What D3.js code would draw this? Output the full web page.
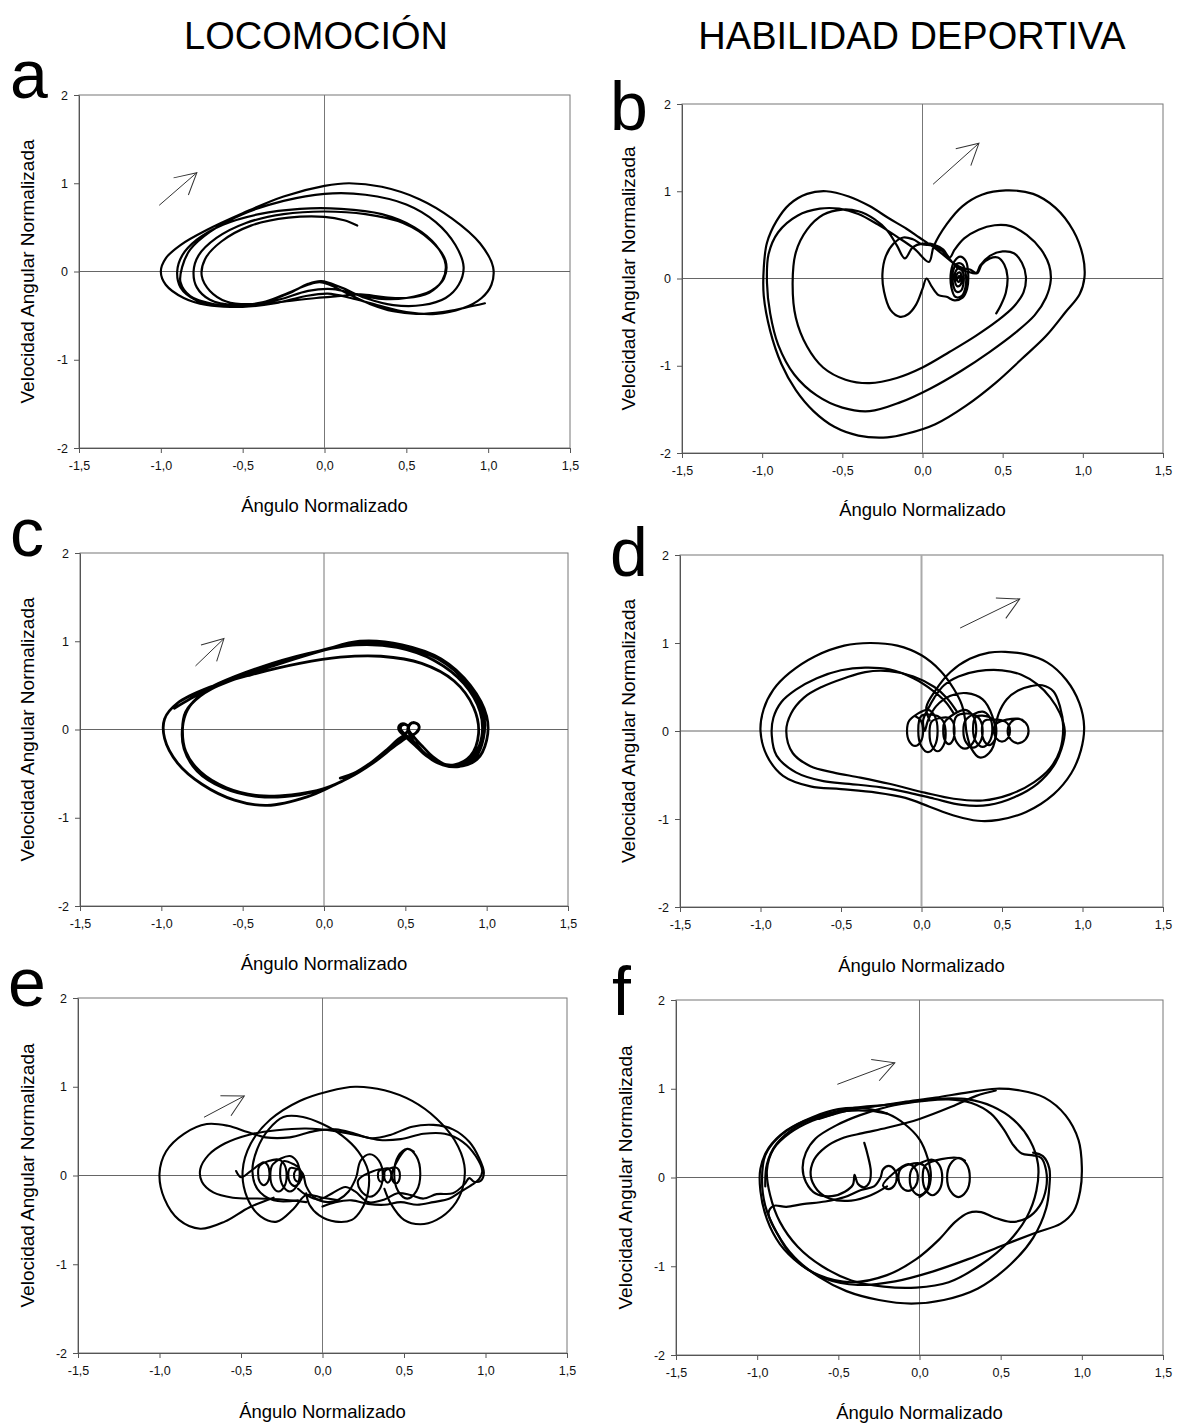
<!DOCTYPE html>
<html>
<head>
<meta charset="utf-8">
<script src="https://cdn.jsdelivr.net/npm/d3@7"></script>
<style>
  body { margin: 0; background: #fff; }
  svg { display: block; }
  text { font-family: "Liberation Sans", Arial, sans-serif; }
</style>
</head>
<body>
<svg id="fig" width="1184" height="1427"></svg>
<script>
// ---- axis ticks and labels ----
const xTicks = [-1.5, -1, -0.5, 0, 0.5, 1, 1.5];
const yTicks = [-2, -1, 0, 1, 2];
const columnTitles = ["LOCOMOCIÓN", "HABILIDAD DEPORTIVA"];
const xTitle = "Ángulo Normalizado";
const yTitle = "Velocidad Angular Normalizada";
const panelLetters = ["a", "b", "c", "d", "e", "f"];

// ---- phase trajectories: [normalized angle, normalized angular velocity] ----
// a: locomotion, kidney-shaped cycles
const trajA = [
[0.98,-0.36],[0.86,-0.41],[0.72,-0.46],[0.56,-0.48],[0.42,-0.45],[0.28,-0.37],[0.14,-0.25],[0.03,-0.15],[-0.03,-0.12],[-0.1,-0.15],[-0.22,-0.24],[-0.36,-0.34],[-0.5,-0.38],[-0.66,-0.38],[-0.79,-0.32],[-0.88,-0.18],[-0.9,0],[-0.87,0.18],[-0.78,0.36],[-0.62,0.53],[-0.4,0.65],[-0.15,0.71],[0.1,0.71],[0.35,0.65],[0.55,0.5],[0.68,0.3],[0.74,0.08],[0.72,-0.1],[0.64,-0.24],[0.5,-0.3],[0.36,-0.29],[0.22,-0.26],[0.08,-0.28],
[-0.05,-0.3],[-0.2,-0.33],[-0.38,-0.37],[-0.56,-0.4],[-0.72,-0.38],[-0.86,-0.3],[-0.97,-0.15],[-1.0,0],[-0.97,0.15],[-0.88,0.3],[-0.72,0.47],[-0.5,0.66],[-0.25,0.85],[0.0,0.97],[0.15,1.0],[0.35,0.96],[0.58,0.82],[0.78,0.6],[0.95,0.32],[1.03,0.05],[1.02,-0.15],[0.96,-0.3],[0.84,-0.42],[0.68,-0.48],[0.5,-0.46],[0.32,-0.38],[0.16,-0.3],[0.02,-0.25],
[-0.12,-0.28],[-0.3,-0.36],[-0.5,-0.4],[-0.68,-0.37],[-0.82,-0.28],[-0.88,-0.12],[-0.87,0.05],[-0.82,0.25],[-0.7,0.45],[-0.5,0.65],[-0.25,0.8],[0.0,0.88],[0.25,0.87],[0.5,0.76],[0.68,0.56],[0.8,0.3],[0.85,0.05],[0.82,-0.15],[0.74,-0.3],[0.6,-0.38],[0.42,-0.38],[0.25,-0.3],[0.1,-0.18],[-0.02,-0.11],
[-0.1,-0.14],[-0.22,-0.25],[-0.38,-0.35],[-0.55,-0.38],[-0.7,-0.32],[-0.78,-0.18],[-0.8,0],[-0.77,0.18],[-0.66,0.38],[-0.48,0.55],[-0.25,0.65],[0.0,0.68],[0.25,0.65],[0.48,0.55],[0.65,0.35],[0.74,0.12],[0.73,-0.08],[0.65,-0.22],[0.5,-0.3],[0.35,-0.31],[0.2,-0.26],[0.05,-0.2],
[-0.1,-0.22],[-0.28,-0.32],[-0.45,-0.37],[-0.6,-0.34],[-0.7,-0.22],[-0.75,-0.05],[-0.73,0.14],[-0.63,0.34],[-0.45,0.52],[-0.22,0.61],[0.0,0.62],[0.12,0.58],[0.2,0.52]
];

// b: sport skill, spiral start, small loop, three heart-shaped cycles, final hook
const trajB = [
[0.22,0.0],[0.228,0.03],[0.236,0.0],[0.226,-0.04],[0.212,-0.01],[0.215,0.05],[0.232,0.07],[0.244,0.02],[0.238,-0.07],[0.218,-0.09],[0.202,-0.03],[0.204,0.07],[0.226,0.12],[0.252,0.07],[0.256,-0.05],[0.24,-0.14],[0.21,-0.15],[0.19,-0.06],[0.19,0.08],[0.215,0.17],[0.25,0.16],[0.27,0.05],[0.268,-0.1],[0.245,-0.2],[0.205,-0.21],[0.18,-0.1],[0.178,0.08],[0.2,0.2],[0.235,0.25],[0.27,0.2],[0.285,0.05],[0.278,-0.12],[0.25,-0.22],[0.2,-0.25],[0.15,-0.21],[0.1,-0.19],[0.06,-0.1],[0.025,0.0],
[0.0,-0.12],[-0.04,-0.3],[-0.09,-0.41],[-0.14,-0.44],[-0.2,-0.36],[-0.24,-0.15],[-0.25,0.05],[-0.23,0.25],[-0.18,0.4],[-0.12,0.47],[-0.06,0.45],[0.0,0.39],[0.06,0.38],[0.12,0.32],[0.17,0.22],[0.22,0.12],[0.28,0.08],[0.335,0.06],
[0.36,0.15],[0.42,0.26],[0.5,0.31],[0.57,0.29],[0.62,0.18],[0.645,0.02],[0.63,-0.16],[0.57,-0.32],[0.47,-0.48],[0.33,-0.66],[0.17,-0.84],[0.0,-1.02],[-0.16,-1.14],[-0.33,-1.2],[-0.48,-1.16],[-0.62,-1.02],[-0.72,-0.78],[-0.79,-0.45],[-0.81,-0.05],[-0.79,0.3],[-0.72,0.56],[-0.62,0.73],[-0.5,0.79],[-0.4,0.77],[-0.3,0.68],[-0.22,0.55],[-0.16,0.38],[-0.11,0.23],[-0.06,0.36],[0.0,0.4],[0.07,0.39],[0.13,0.33],[0.17,0.24],
[0.2,0.33],[0.26,0.46],[0.35,0.56],[0.45,0.61],[0.55,0.6],[0.65,0.5],[0.74,0.33],[0.79,0.15],[0.8,-0.02],[0.77,-0.22],[0.7,-0.42],[0.58,-0.62],[0.42,-0.84],[0.24,-1.06],[0.05,-1.26],[-0.14,-1.42],[-0.33,-1.52],[-0.5,-1.48],[-0.66,-1.34],[-0.8,-1.1],[-0.9,-0.76],[-0.95,-0.4],[-0.97,-0.05],[-0.96,0.28],[-0.9,0.53],[-0.78,0.72],[-0.64,0.8],[-0.52,0.8],[-0.4,0.74],[-0.28,0.62],[-0.16,0.48],[-0.05,0.34],[0.04,0.19],
[0.07,0.37],[0.15,0.62],[0.25,0.83],[0.37,0.96],[0.52,1.01],[0.69,0.97],[0.83,0.81],[0.94,0.55],[1.0,0.26],[1.01,0.01],[0.98,-0.18],[0.89,-0.39],[0.77,-0.66],[0.62,-0.92],[0.46,-1.19],[0.27,-1.46],[0.08,-1.67],[-0.1,-1.78],[-0.22,-1.82],[-0.4,-1.8],[-0.55,-1.7],[-0.68,-1.52],[-0.79,-1.28],[-0.88,-0.98],[-0.95,-0.6],[-0.99,-0.2],[-0.99,0.12],[-0.97,0.41],[-0.91,0.66],[-0.83,0.85],[-0.72,0.97],[-0.6,1.0],[-0.46,0.94],[-0.33,0.83],[-0.21,0.69],[-0.1,0.57],[-0.02,0.47],[0.06,0.37],[0.13,0.27],[0.19,0.18],[0.25,0.12],[0.3,0.1],[0.34,0.06],
[0.37,0.16],[0.42,0.23],[0.47,0.24],[0.51,0.16],[0.53,0.02],[0.52,-0.16],[0.49,-0.3],[0.46,-0.4]
];

// c: locomotion, tightly repeated cycles with twin loops near (0.5, 0)
const trajC = [
[-0.92,0.24],[-0.82,0.35],[-0.65,0.52],[-0.4,0.7],[-0.1,0.86],[0.2,0.96],[0.45,0.93],[0.68,0.78],[0.86,0.52],[0.96,0.2],[0.97,-0.08],[0.92,-0.3],[0.84,-0.41],[0.75,-0.4],[0.67,-0.31],[0.61,-0.2],[0.56,-0.1],[0.52,0.0],[0.53,0.06],[0.56,0.075],[0.585,0.03],[0.565,-0.04],[0.51,-0.09],[0.44,-0.18],[0.3,-0.38],[0.15,-0.55],[0.0,-0.67],[-0.2,-0.74],[-0.4,-0.75],[-0.6,-0.66],[-0.76,-0.48],[-0.85,-0.25],[-0.87,0.0],[-0.85,0.2],
[-0.76,0.38],[-0.58,0.56],[-0.35,0.72],[-0.05,0.88],[0.2,0.98],[0.45,0.95],[0.7,0.8],[0.88,0.52],[0.98,0.18],[0.98,-0.1],[0.93,-0.32],[0.83,-0.42],[0.73,-0.4],[0.63,-0.3],[0.56,-0.18],[0.5,-0.08],[0.46,0.0],[0.465,0.05],[0.495,0.065],[0.52,0.02],[0.5,-0.05],[0.45,-0.12],[0.38,-0.24],[0.3,-0.36],[0.18,-0.52],[0.02,-0.66],[-0.15,-0.74],[-0.4,-0.76],[-0.62,-0.66],[-0.78,-0.47],[-0.86,-0.22],[-0.87,0.02],[-0.84,0.22],
[-0.75,0.4],[-0.55,0.57],[-0.3,0.73],[0.0,0.9],[0.22,1.0],[0.48,0.96],[0.72,0.8],[0.9,0.5],[1.0,0.15],[1.0,-0.12],[0.94,-0.34],[0.82,-0.42],[0.7,-0.38],[0.62,-0.28],[0.56,-0.16],[0.53,-0.07],[0.515,0.01],[0.53,0.065],[0.56,0.075],[0.585,0.035],[0.565,-0.04],[0.5,-0.1],[0.42,-0.2],[0.34,-0.32],[0.2,-0.5],[0.05,-0.64],[-0.1,-0.76],[-0.35,-0.86],[-0.55,-0.8],[-0.75,-0.62],[-0.9,-0.38],[-0.98,-0.1],[-0.98,0.12],[-0.9,0.3],
[-0.7,0.48],[-0.45,0.62],[-0.15,0.75],[0.1,0.82],[0.35,0.83],[0.6,0.75],[0.8,0.55],[0.92,0.25],[0.95,-0.05],[0.9,-0.3],[0.8,-0.4],[0.7,-0.37],[0.62,-0.27],[0.56,-0.15],[0.5,-0.06],[0.47,0.01],[0.48,0.05],[0.51,0.05],[0.52,0.0],[0.49,-0.07],[0.43,-0.16],[0.3,-0.36],[0.18,-0.5],[0.1,-0.55]
];

// d: sport skill, figure-eight cycles around a chain of small loops
const trajD1 = [
[0.05,0.12],[0.03,0.27],[0.09,0.47],[0.18,0.67],[0.3,0.82],[0.42,0.89],[0.52,0.9],[0.65,0.87],[0.78,0.78],[0.9,0.58],[0.98,0.32],[1.01,0.05],[0.99,-0.22],[0.93,-0.48],[0.82,-0.72],[0.65,-0.92],[0.48,-1.01],[0.35,-1.02],[0.2,-0.96],[0.05,-0.86],[-0.1,-0.76],[-0.28,-0.7],[-0.5,-0.66],[-0.69,-0.63],[-0.86,-0.51],[-0.96,-0.28],[-1.0,0.0],[-0.98,0.25],[-0.92,0.47],[-0.82,0.66],[-0.66,0.85],[-0.48,0.97],[-0.32,1.0],[-0.15,0.97],[0.0,0.86],[0.12,0.68],[0.2,0.48],[0.25,0.3],[0.27,0.14],[0.28,-0.02],
[0.31,-0.2],[0.36,-0.3],[0.42,-0.25],[0.46,-0.06],[0.44,0.17],[0.38,0.36],[0.28,0.43],[0.18,0.4],[0.09,0.28],[0.04,0.12],[0.02,0.0],[0.01,0.12],[0.04,0.25],
[0.08,0.38],[0.14,0.52],[0.23,0.62],[0.35,0.68],[0.5,0.69],[0.62,0.64],[0.72,0.53],[0.8,0.38],[0.86,0.2],[0.89,0.0],[0.87,-0.2],[0.82,-0.4],[0.72,-0.6],[0.58,-0.75],[0.42,-0.84],[0.25,-0.84],[0.08,-0.77],[-0.08,-0.7],[-0.25,-0.64],[-0.45,-0.6],[-0.61,-0.57],[-0.78,-0.47],[-0.9,-0.28],[-0.93,-0.05],[-0.92,0.15],[-0.87,0.33],[-0.78,0.47],[-0.65,0.6],[-0.5,0.69],[-0.35,0.72],[-0.2,0.7],[-0.05,0.6],[0.07,0.46],[0.15,0.33],[0.2,0.2]
];
const trajD2 = [
[0.46,0.05],[0.48,0.2],[0.53,0.36],[0.6,0.46],[0.68,0.51],[0.75,0.52],[0.82,0.45],[0.86,0.28],[0.88,0.05],[0.86,-0.22],[0.8,-0.42],[0.7,-0.58],[0.55,-0.72],[0.38,-0.79],[0.2,-0.77],[0.02,-0.7],[-0.2,-0.6],[-0.38,-0.53],[-0.55,-0.47],[-0.69,-0.4],[-0.8,-0.25],[-0.84,0.0],[-0.81,0.2],[-0.73,0.38],[-0.62,0.5],[-0.48,0.6],[-0.35,0.67],[-0.2,0.68],[-0.05,0.62],[0.08,0.5],[0.16,0.37],[0.22,0.22]
];
const loopsD = [
[-0.04,0.17],[-0.005,0.12],[0.01,0.0],[-0.005,-0.12],[-0.04,-0.17],[-0.075,-0.12],[-0.09,0.0],[-0.075,0.12],
[0.04,0.24],[0.082,0.17],[0.1,0.0],[0.082,-0.17],[0.04,-0.24],[-0.002,-0.17],[-0.02,0.0],[-0.002,0.17],
[0.1,0.17],[0.135,0.11],[0.15,-0.03],[0.135,-0.17],[0.1,-0.23],[0.065,-0.17],[0.05,-0.03],[0.065,0.11],
[0.17,0.15],[0.195,0.105],[0.205,0.0],[0.195,-0.105],[0.17,-0.15],[0.145,-0.105],[0.135,0.0],[0.145,0.105],
[0.27,0.24],[0.319,0.174],[0.34,0.02],[0.319,-0.134],[0.27,-0.2],[0.221,-0.134],[0.2,0.02],[0.221,0.174],
[0.32,0.19],[0.362,0.133],[0.38,0.0],[0.362,-0.133],[0.32,-0.19],[0.278,-0.133],[0.26,0.0],[0.278,0.133],
[0.38,0.22],[0.422,0.16],[0.44,0.02],[0.422,-0.12],[0.38,-0.18],[0.338,-0.12],[0.32,0.02],[0.338,0.16],
[0.42,0.16],[0.452,0.112],[0.465,0.0],[0.452,-0.112],[0.42,-0.16],[0.389,-0.112],[0.375,0.0],[0.389,0.112],
[0.5,0.12],[0.535,0.084],[0.55,0.0],[0.535,-0.084],[0.5,-0.12],[0.465,-0.084],[0.45,0.0],[0.465,0.084],
[0.6,0.14],[0.645,0.098],[0.665,0.0],[0.645,-0.098],[0.6,-0.14],[0.555,-0.098],[0.535,0.0],[0.555,0.098],[0.6,0.14],[0.64,0.1]
];

// e: locomotion, irregular cycles with many small loops
const trajE1 = [
[-0.3,-0.25],[-0.45,-0.36],[-0.6,-0.52],[-0.75,-0.6],[-0.88,-0.5],[-0.97,-0.26],[-1.0,0.02],[-0.96,0.27],[-0.85,0.47],[-0.71,0.58],[-0.58,0.56],[-0.46,0.49],[-0.35,0.43],[-0.2,0.43],[-0.05,0.5],[0.08,0.52],[0.2,0.47],[0.3,0.42],[0.42,0.46],[0.55,0.55],[0.68,0.57],[0.8,0.52],[0.9,0.38],[0.96,0.2],[0.99,0.03],[0.97,-0.06],[0.93,-0.07],[0.9,-0.03],[0.87,-0.1],[0.8,-0.2],[0.7,-0.21],[0.62,-0.26],[0.54,-0.22],[0.46,-0.2],[0.38,-0.27],[0.28,-0.3],[0.2,-0.18],[0.14,-0.13],[0.06,-0.2],[-0.02,-0.27],[-0.1,-0.22],[-0.15,-0.15]
];
const trajE2 = [
[-0.1,-0.3],[-0.25,-0.27],[-0.4,-0.26],[-0.55,-0.25],[-0.67,-0.19],[-0.74,-0.07],[-0.75,0.07],[-0.7,0.23],[-0.6,0.36],[-0.45,0.46],[-0.28,0.51],[-0.1,0.53],[0.08,0.5],[0.22,0.45],[0.35,0.4],[0.48,0.41],[0.62,0.47],[0.75,0.47],[0.86,0.38],[0.94,0.22],[0.98,0.05],[0.96,-0.04],[0.92,-0.1],[0.85,-0.18],[0.78,-0.26],[0.68,-0.3],[0.58,-0.33],[0.48,-0.3],[0.38,-0.33],[0.28,-0.32],[0.18,-0.28],[0.08,-0.3],[0.0,-0.35]
];
const trajE3 = [
[0.1,-0.28],[0.0,-0.25],[-0.1,-0.22],[-0.18,-0.38],[-0.28,-0.52],[-0.38,-0.46],[-0.46,-0.26],[-0.49,0.05],[-0.44,0.36],[-0.32,0.63],[-0.14,0.84],[0.04,0.95],[0.2,1.0],[0.38,0.96],[0.55,0.84],[0.7,0.64],[0.81,0.4],[0.87,0.12],[0.86,-0.14],[0.8,-0.35],[0.7,-0.5],[0.6,-0.55],[0.5,-0.5],[0.42,-0.32],[0.38,-0.15]
];
const trajE4 = [
[-0.15,-0.28],[-0.3,-0.28],[-0.4,-0.15],[-0.43,0.05],[-0.4,0.3],[-0.33,0.52],[-0.24,0.66],[-0.12,0.66],[0.0,0.58],[0.12,0.45],[0.22,0.27],[0.28,0.05],[0.28,-0.18],[0.24,-0.38],[0.18,-0.5],[0.08,-0.52],[-0.02,-0.45],[-0.08,-0.33],[-0.1,-0.2]
];
const loopsE = [
[-0.53,0.05],[-0.5,-0.02],[-0.44,0.05],
[-0.36,0.15],[-0.335,0.111],[-0.325,0.02],[-0.335,-0.071],[-0.36,-0.11],[-0.385,-0.071],[-0.395,0.02],[-0.385,0.111],
[-0.27,0.18],[-0.235,0.126],[-0.22,0.0],[-0.235,-0.126],[-0.27,-0.18],[-0.305,-0.126],[-0.32,0.0],[-0.305,0.126],
[-0.2,0.22],[-0.158,0.16],[-0.14,0.02],[-0.158,-0.12],[-0.2,-0.18],[-0.242,-0.12],[-0.26,0.02],[-0.242,0.16],
[-0.17,0.12],[-0.142,0.084],[-0.13,0.0],[-0.142,-0.084],[-0.17,-0.12],[-0.198,-0.084],[-0.21,0.0],[-0.198,0.084],
[-0.15,0.07],[-0.132,0.05],[-0.125,0.0],[-0.132,-0.05],[-0.15,-0.07],[-0.168,-0.05],[-0.175,0.0],[-0.168,0.05],[-0.15,0.07],[-0.12,0.02],
[-0.1,-0.12],[-0.05,-0.25],[0.03,-0.3],[0.1,-0.27],[0.16,-0.18],[0.2,-0.05],
[0.21,0.0],[0.234,0.168],[0.29,0.24],[0.346,0.168],[0.37,0.0],[0.346,-0.168],[0.29,-0.24],[0.234,-0.168],[0.22,-0.05],
[0.36,0.07],[0.374,0.05],[0.38,0.0],[0.374,-0.05],[0.36,-0.07],[0.346,-0.05],[0.34,0.0],[0.346,0.05],
[0.4,0.08],[0.415,0.056],[0.422,0.0],[0.415,-0.056],[0.4,-0.08],[0.385,-0.056],[0.378,0.0],[0.385,0.056],
[0.45,0.09],[0.468,0.063],[0.475,0.0],[0.468,-0.063],[0.45,-0.09],[0.432,-0.063],[0.425,0.0],[0.432,0.063],
[0.52,0.3],[0.576,0.216],[0.6,0.02],[0.576,-0.176],[0.52,-0.26],[0.464,-0.176],[0.44,0.02],[0.464,0.216],[0.52,0.3],[0.56,0.27]
];

// f: sport skill, large cycles with a chain of loops on the horizontal axis
const trajF1 = [
[-0.62,0.66],[-0.45,0.75],[-0.28,0.8],[-0.1,0.85],[0.1,0.9],[0.3,0.96],[0.47,1.0],[0.62,0.98],[0.77,0.9],[0.9,0.7],[0.98,0.42],[1.0,0.12],[0.99,-0.15],[0.95,-0.38],[0.87,-0.52],[0.72,-0.62],[0.52,-0.76],[0.3,-0.92],[0.08,-1.06],[-0.15,-1.17],[-0.38,-1.21],[-0.58,-1.14],[-0.74,-0.97],[-0.86,-0.75],[-0.94,-0.47],[-0.98,-0.15],[-0.98,0.1],[-0.93,0.33],[-0.82,0.53],[-0.66,0.68],[-0.5,0.77],[-0.35,0.78],[-0.2,0.72],[-0.09,0.6],[0.0,0.43],[0.05,0.22],[0.07,0.02],[0.05,-0.14],[0.0,-0.22]
];
const trajF2 = [
[-0.95,-0.1],[-0.94,0.15],[-0.88,0.38],[-0.76,0.57],[-0.6,0.7],[-0.42,0.78],[-0.2,0.82],[0.0,0.86],[0.18,0.88],[0.32,0.84],[0.44,0.72],[0.52,0.54],[0.58,0.36],[0.63,0.27],[0.7,0.25],[0.75,0.22],[0.78,0.08],[0.78,-0.12],[0.74,-0.32],[0.66,-0.46],[0.56,-0.5],[0.46,-0.45],[0.38,-0.39],[0.3,-0.4],[0.22,-0.5],[0.12,-0.7],[-0.02,-0.92],[-0.2,-1.1],[-0.42,-1.18],[-0.62,-1.1],[-0.78,-0.9],[-0.88,-0.62],[-0.93,-0.4],[-0.9,-0.32],[-0.82,-0.33],[-0.72,-0.3],[-0.58,-0.27],[-0.46,-0.22],[-0.36,-0.14],[-0.28,-0.1],
[-0.24,0.0],[-0.225,0.09],[-0.19,0.13],[-0.155,0.09],[-0.14,0.0],[-0.155,-0.09],[-0.19,-0.13],[-0.225,-0.09],
[-0.07,0.15],[-0.028,0.105],[-0.01,0.0],[-0.028,-0.105],[-0.07,-0.15],[-0.112,-0.105],[-0.13,0.0],[-0.112,0.105],
[0.0,0.16],[0.042,0.106],[0.06,-0.02],[0.042,-0.146],[0.0,-0.2],[-0.042,-0.146],[-0.06,-0.02],[-0.042,0.106],
[0.08,0.2],[0.122,0.14],[0.14,0.0],[0.122,-0.14],[0.08,-0.2],[0.038,-0.14],[0.02,0.0],[0.038,0.14],
[0.24,0.22],[0.289,0.154],[0.31,0.0],[0.289,-0.154],[0.24,-0.22],[0.191,-0.154],[0.17,0.0],[0.191,0.154],[0.24,0.22],[0.28,0.19]
];
const trajF3 = [
[-0.34,0.39],[-0.32,0.26],[-0.3,0.07],[-0.31,-0.06],[-0.34,-0.11],[-0.38,-0.07],[-0.4,0.03],[-0.41,-0.08],[-0.46,-0.16],[-0.54,-0.21],[-0.64,-0.18],[-0.7,-0.05],[-0.72,0.11],[-0.7,0.28],[-0.64,0.44],[-0.51,0.59],[-0.37,0.7],[-0.19,0.8],[0.0,0.86],[0.15,0.89],[0.3,0.88],[0.45,0.8],[0.58,0.65],[0.68,0.42],[0.73,0.15],[0.72,-0.15],[0.66,-0.45],[0.55,-0.72],[0.38,-0.98],[0.18,-1.18],[-0.02,-1.24],[-0.22,-1.23],[-0.42,-1.16],[-0.6,-1.0],[-0.75,-0.78],[-0.86,-0.5],[-0.92,-0.2],[-0.94,0.08],[-0.9,0.32],[-0.8,0.5],[-0.66,0.64],[-0.52,0.72]
];
const trajF4 = [
[0.7,0.28],[0.76,0.24],[0.8,0.1],[0.8,-0.1],[0.78,-0.35],[0.7,-0.68],[0.56,-0.98],[0.36,-1.25],[0.15,-1.38],[-0.05,-1.42],[-0.25,-1.38],[-0.45,-1.28],[-0.62,-1.12],[-0.77,-0.9],[-0.88,-0.62],[-0.95,-0.32],[-0.97,-0.02],[-0.95,0.25],[-0.87,0.45],[-0.75,0.6],[-0.6,0.7],[-0.45,0.75],[-0.3,0.75],[-0.2,0.72]
];
const trajF5 = [
[-0.2,-0.1],[-0.3,-0.2],[-0.42,-0.26],[-0.55,-0.24],[-0.63,-0.14],[-0.67,0.02],[-0.65,0.2],[-0.58,0.34],[-0.48,0.44],[-0.35,0.5],[-0.2,0.56],[0.0,0.66],[0.2,0.8],[0.35,0.92],[0.47,0.98]
];

// direction arrows: [tail, tip]
const arrowA = [[-1.01,0.75],[-0.78,1.12]];
const arrowB = [[0.066,1.08],[0.352,1.55]];
const arrowC = [[-0.79,0.72],[-0.615,1.03]];
const arrowD = [[0.24,1.17],[0.61,1.5]];
const arrowE = [[-0.727,0.656],[-0.48,0.896]];
const arrowF = [[-0.506,1.05],[-0.152,1.293]];

// ---- layout ----
const panels = [
  { letter: panelLetters[0], box: [79, 570, 95, 448],    series: [trajA], arrow: arrowA, lw: 2.2, letterPos: [10, 98],   yTitleX: 27,  xTitleY: 512 },
  { letter: panelLetters[1], box: [682, 1163, 104, 453], series: [trajB], arrow: arrowB, lw: 2.2, letterPos: [610, 130], yTitleX: 628, xTitleY: 516 },
  { letter: panelLetters[2], box: [80, 568, 553, 906],   series: [trajC], arrow: arrowC, lw: 2.8, letterPos: [10, 556],  yTitleX: 27,  xTitleY: 970 },
  { letter: panelLetters[3], box: [680, 1163, 555, 907], series: [trajD1, trajD2, loopsD], arrow: arrowD, lw: 2.2, letterPos: [610, 576], yTitleX: 628, xTitleY: 972, vZero: { stroke: "#aaa", w: 2 } },
  { letter: panelLetters[4], box: [78, 567, 998, 1353],  series: [trajE1, trajE2, trajE3, trajE4, loopsE], arrow: arrowE, lw: 2.1, letterPos: [8, 1006], yTitleX: 27, xTitleY: 1418 },
  { letter: panelLetters[5], box: [676, 1163, 1000, 1355], series: [trajF1, trajF2, trajF3, trajF4, trajF5], arrow: arrowF, lw: 2.2, letterPos: [612, 1015], yTitleX: 625, xTitleY: 1419 }
];

const svg = d3.select("#fig");
const locale = d3.formatLocale({ decimal: ",", thousands: ".", grouping: [3], currency: ["", ""], minus: "-" });
const fmtX = locale.format(".1f");
const fmtY = locale.format("d");

svg.append("rect").attr("width", 1184).attr("height", 1427).attr("fill", "#fff");

svg.append("defs").append("marker")
  .attr("id", "arrowhead")
  .attr("markerUnits", "userSpaceOnUse")
  .attr("viewBox", "-24 -14 28 28")
  .attr("refX", 0).attr("refY", 0)
  .attr("markerWidth", 28).attr("markerHeight", 28)
  .attr("orient", "auto")
  .append("path")
  .attr("d", "M-21,-11.3L0,0L-21,11.3")
  .attr("fill", "none").attr("stroke", "#333").attr("stroke-width", 1);

// column titles
svg.append("text").attr("x", 316).attr("y", 49).attr("text-anchor", "middle")
  .attr("font-size", 38).text(columnTitles[0]);
svg.append("text").attr("x", 912).attr("y", 49).attr("text-anchor", "middle")
  .attr("font-size", 38).text(columnTitles[1]);

panels.forEach(p => {
  const [x0, x1, y0, y1] = p.box;
  const x = d3.scaleLinear().domain([-1.5, 1.5]).range([x0, x1]);
  const y = d3.scaleLinear().domain([-2, 2]).range([y1, y0]);
  const g = svg.append("g");

  // plot frame
  g.append("rect").attr("x", x0).attr("y", y0).attr("width", x1 - x0).attr("height", y1 - y0)
    .attr("fill", "none").attr("stroke", "#777").attr("stroke-width", 1);

  // zero reference lines
  const vz = p.vZero || { stroke: "#777", w: 1 };
  g.append("line").attr("x1", x(0)).attr("x2", x(0)).attr("y1", y0).attr("y2", y1)
    .attr("stroke", vz.stroke).attr("stroke-width", vz.w);
  g.append("line").attr("x1", x0).attr("x2", x1).attr("y1", y(0)).attr("y2", y(0))
    .attr("stroke", "#666").attr("stroke-width", 1);

  // axes
  const gx = g.append("g").attr("transform", `translate(0,${y1})`)
    .call(d3.axisBottom(x).tickValues(xTicks).tickFormat(fmtX).tickSize(5).tickSizeOuter(0).tickPadding(8));
  const gy = g.append("g").attr("transform", `translate(${x0},0)`)
    .call(d3.axisLeft(y).tickValues(yTicks).tickFormat(fmtY).tickSize(5).tickSizeOuter(0).tickPadding(6));
  [gx, gy].forEach(a => {
    a.attr("font-family", "'Liberation Sans', Arial, sans-serif").attr("font-size", 12.5);
    a.selectAll("path, line").attr("stroke", "#555");
    a.selectAll("text").attr("fill", "#111");
  });

  // trajectories
  const line = d3.line().x(d => x(d[0])).y(d => y(d[1])).curve(d3.curveCatmullRom.alpha(0.5));
  p.series.forEach(s => {
    g.append("path").attr("d", line(s)).attr("fill", "none")
      .attr("stroke", "#000").attr("stroke-width", p.lw)
      .attr("stroke-linejoin", "round").attr("stroke-linecap", "round");
  });

  // direction arrow
  g.append("line")
    .attr("x1", x(p.arrow[0][0])).attr("y1", y(p.arrow[0][1]))
    .attr("x2", x(p.arrow[1][0])).attr("y2", y(p.arrow[1][1]))
    .attr("stroke", "#333").attr("stroke-width", 1)
    .attr("marker-end", "url(#arrowhead)");

  // axis titles
  g.append("text").attr("x", (x0 + x1) / 2).attr("y", p.xTitleY).attr("text-anchor", "middle")
    .attr("font-size", 18.5).text(xTitle);
  g.append("text").attr("transform", `translate(${p.yTitleX},${(y0 + y1) / 2}) rotate(-90)`)
    .attr("text-anchor", "middle").attr("dy", "0.35em").attr("font-size", 19).text(yTitle);

  // panel letter
  g.append("text").attr("x", p.letterPos[0]).attr("y", p.letterPos[1]).attr("font-size", 68).text(p.letter);
});
</script>
</body>
</html>
